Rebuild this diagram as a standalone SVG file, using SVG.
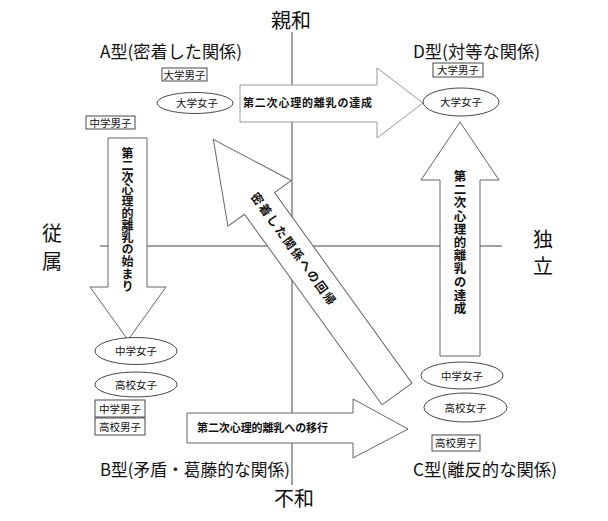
<svg xmlns="http://www.w3.org/2000/svg" width="608" height="521" viewBox="0 0 608 521">
<style>
text{font-family:"Noto Sans CJK JP","Noto Sans CJK SC",sans-serif;fill:#111}
.axis{stroke:#444;stroke-width:1;fill:none}
.big{font-size:20px;text-anchor:middle}
.title{font-size:17px}
.lbl{font-size:10.5px;text-anchor:middle}
.box{fill:#fff;stroke:#333;stroke-width:0.9}
.ell{fill:#fff;stroke:#333;stroke-width:0.9}
.arrow{fill:#fff;stroke:#666;stroke-width:1}
.arrowl{fill:#fff;stroke:#999;stroke-width:1}
.at{font-size:11px;font-weight:bold}
.vt{font-size:12px;font-weight:bold;writing-mode:vertical-rl;text-orientation:upright}
</style>
<rect width="608" height="521" fill="#fff"/>
<g id="axes">
<line class="axis" x1="292" y1="32" x2="292" y2="485"/>
<line class="axis" x1="100" y1="246" x2="502" y2="246"/>
<text class="big" x="291" y="28">親和</text>
<text class="big" x="294" y="506">不和</text>
<text class="big" x="52" y="241">従</text>
<text class="big" x="52" y="269">属</text>
<text class="big" x="543" y="247">独</text>
<text class="big" x="543" y="274">立</text>
</g>
<g id="titles">
<text class="title" x="100" y="58" textLength="142" lengthAdjust="spacingAndGlyphs">A型(密着した関係)</text>
<text class="title" x="413" y="58" textLength="127" lengthAdjust="spacingAndGlyphs">D型(対等な関係)</text>
<text class="title" x="100" y="476" textLength="190" lengthAdjust="spacingAndGlyphs">B型(矛盾・葛藤的な関係)</text>
<text class="title" x="413" y="476" textLength="144" lengthAdjust="spacingAndGlyphs">C型(離反的な関係)</text>
</g>
<g id="connectors">
<polygon id="arrow-top" class="arrowl" points="240,85 377,85 377,68 423,103 377,138 377,122 240,122"/>
<text class="at" x="243" y="107" textLength="129" lengthAdjust="spacing">第二次心理的離乳の達成</text>
<polygon id="arrow-down" class="arrow" points="108,138 147,138 147,287 166,287 128,340 90,287 108,287"/>
<text class="vt" x="127.5" y="147" style="letter-spacing:0.1px">第二次心理的離乳の始まり</text>
<polygon id="arrow-up" class="arrow" points="440,356 480,356 480,180 499,180 460,122 421,180 440,180"/>
<text class="vt" x="460" y="170" style="font-size:12.5px;letter-spacing:0.7px">第二次心理的離乳の達成</text>
<polygon id="arrow-bottom" class="arrow" points="187,413 353,413 353,399 408,429 353,458 353,443 187,443"/>
<text class="at" x="197" y="432" textLength="131" lengthAdjust="spacing">第二次心理的離乳への移行</text>
<g transform="translate(397,394) rotate(-125.8)">
<polygon id="arrow-diag" class="arrow" points="0,-18.5 235,-18.5 235,-39 314,0 235,39 235,18.5 0,18.5"/>
</g>
<text class="at" style="font-size:12px;text-anchor:middle" transform="translate(293.5,248.5) rotate(54.2)" x="0" y="4.5" textLength="135" lengthAdjust="spacing">密着した関係への回帰</text>
</g>
<g id="node-A">
<rect class="box" x="162" y="68" width="45" height="13"/>
<text class="lbl" x="184.5" y="78.5">大学男子</text>
<ellipse class="ell" cx="195" cy="103" rx="38" ry="10.5"/>
<text class="lbl" x="197" y="107">大学女子</text>
<rect class="box" x="86" y="116" width="49" height="13"/>
<text class="lbl" x="110.5" y="126.5">中学男子</text>
</g>
<g id="node-D">
<rect class="box" x="433" y="63" width="50" height="14"/>
<text class="lbl" x="458" y="74">大学男子</text>
<ellipse class="ell" cx="461" cy="102" rx="38" ry="14"/>
<text class="lbl" x="461" y="106">大学女子</text>
</g>
<g id="node-B">
<ellipse class="ell" cx="136" cy="351" rx="41" ry="13.5"/>
<text class="lbl" x="136" y="355">中学女子</text>
<ellipse class="ell" cx="136" cy="384.5" rx="41" ry="12.5"/>
<text class="lbl" x="136" y="388.5">高校女子</text>
<rect class="box" x="95" y="400" width="50" height="17"/>
<text class="lbl" x="120" y="412.5">中学男子</text>
<rect class="box" x="95" y="418" width="50" height="17"/>
<text class="lbl" x="120" y="430.5">高校男子</text>
</g>
<g id="node-C">
<ellipse class="ell" cx="462" cy="375.5" rx="41" ry="13.5"/>
<text class="lbl" x="462" y="379.5">中学女子</text>
<ellipse class="ell" cx="465.5" cy="407.5" rx="41.5" ry="14.5"/>
<text class="lbl" x="465.5" y="411.5">高校女子</text>
<rect class="box" x="432" y="435" width="48" height="16"/>
<text class="lbl" x="456" y="447">高校男子</text>
</g>
</svg>
